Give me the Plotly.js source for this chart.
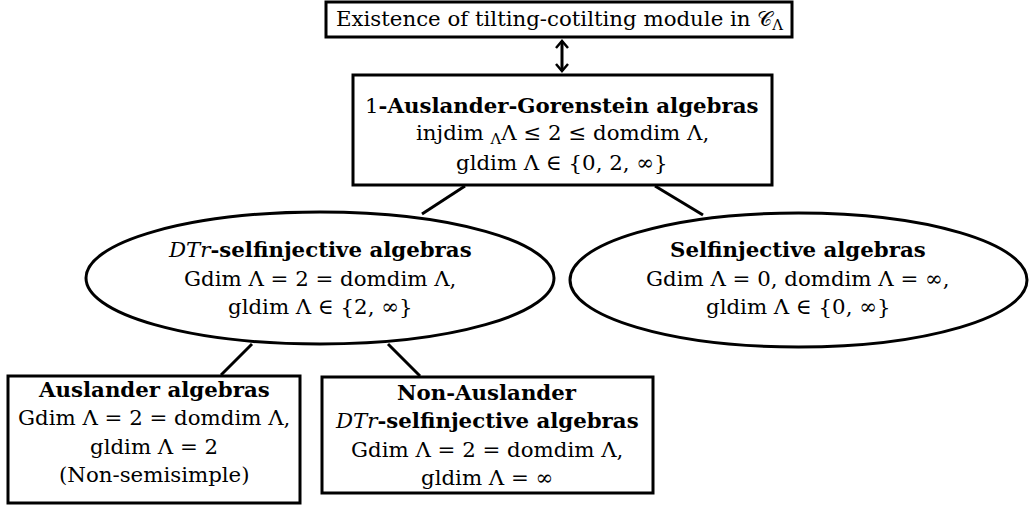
<!DOCTYPE html>
<html><head><meta charset="utf-8">
<script src="https://cdn.plot.ly/plotly-3.0.1.min.js"></script>
<style>html,body{margin:0;padding:0;background:#fff}</style>
</head><body>
<div id="chart" style="width:1029px;height:509px"></div>
<script>
// ---- data: nodes and edges of the diagram ----
const nodeNames = ["top", "oneAG", "dtr", "selfinj", "auslander", "nonAuslander"];
const nodeLabels = [
  ["Existence of tilting-cotilting module in 𝒞<sub>Λ</sub>"],
  ["1<b>-Auslander-Gorenstein algebras</b>", "injdim <sub>Λ</sub>Λ ≤ 2 ≤ domdim Λ,", "gldim Λ ∈ {0, 2, ∞}"],
  ["<i>DTr</i><b>-selfinjective algebras</b>", "Gdim Λ = 2 = domdim Λ,", "gldim Λ ∈ {2, ∞}"],
  ["<b>Selfinjective algebras</b>", "Gdim Λ = 0, domdim Λ = ∞,", "gldim Λ ∈ {0, ∞}"],
  ["<b>Auslander algebras</b>", "Gdim Λ = 2 = domdim Λ,", "gldim Λ = 2", "(Non-semisimple)"],
  ["<b>Non-Auslander</b>", "<i>DTr</i><b>-selfinjective algebras</b>", "Gdim Λ = 2 = domdim Λ,", "gldim Λ = ∞"]
];
const nodeKinds = ["rect", "rect", "circle", "circle", "rect", "rect"];
const edgeFrom = [0, 1, 1, 2, 2];
const edgeTo   = [1, 2, 3, 4, 5];
const edgeType = ["both", "line", "line", "line", "line"];

// ---- layout geometry (pixels) ----
const nodeBox = [
  [326, 2, 792, 37],
  [353, 75, 772, 185],
  [86, 212, 554, 344],
  [570, 213, 1027, 347],
  [8, 376, 300, 503],
  [322, 377, 653, 493]
];
const nodeText = [[559, 20], [562, 134], [320, 278], [798, 278], [154, 432], [487, 435]];
const lineGap = 28.5;
const edgePts = [
  [562, 41, 562, 71],
  [465, 186, 422, 214],
  [655, 186, 703, 215],
  [252, 344, 221, 375],
  [388, 344, 420, 376]
];

const shapes = [];
const annotations = [];
nodeNames.forEach((n, i) => {
  const b = nodeBox[i];
  shapes.push({type: nodeKinds[i], xref: 'x', yref: 'y', x0: b[0], y0: b[1], x1: b[2], y1: b[3],
    line: {color: '#000', width: 3}, fillcolor: 'rgba(0,0,0,0)'});
  const lines = nodeLabels[i];
  lines.forEach((t, k) => {
    annotations.push({xref: 'x', yref: 'y', x: nodeText[i][0],
      y: nodeText[i][1] + (k - (lines.length - 1) / 2) * lineGap, text: t,
      showarrow: false, xanchor: 'center', yanchor: 'middle', align: 'center',
      font: {family: 'DejaVu Serif, serif', size: 21.3, color: '#000'}});
  });
});
edgeFrom.forEach((f, i) => {
  const p = edgePts[i];
  shapes.push({type: 'line', xref: 'x', yref: 'y', x0: p[0], y0: p[1], x1: p[2], y1: p[3],
    line: {color: '#000', width: 3}});
  if (edgeType[i] === 'both') {
    shapes.push({type: 'path', xref: 'x', yref: 'y',
      path: `M${p[0]-6},${p[1]+7} L${p[0]},${p[1]} L${p[0]+6},${p[1]+7}`, line: {color: '#000', width: 2.5}});
    shapes.push({type: 'path', xref: 'x', yref: 'y',
      path: `M${p[2]-6},${p[3]-7} L${p[2]},${p[3]} L${p[2]+6},${p[3]-7}`, line: {color: '#000', width: 2.5}});
  }
});

const layout = {
  width: 1029, height: 509,
  margin: {l: 0, r: 0, t: 0, b: 0},
  paper_bgcolor: '#fff', plot_bgcolor: '#fff',
  xaxis: {range: [0, 1029], visible: false, fixedrange: true},
  yaxis: {range: [509, 0], visible: false, fixedrange: true},
  showlegend: false,
  shapes: shapes,
  annotations: annotations
};
Plotly.newPlot('chart', [], layout, {displayModeBar: false, staticPlot: true});
</script>
</body></html>
